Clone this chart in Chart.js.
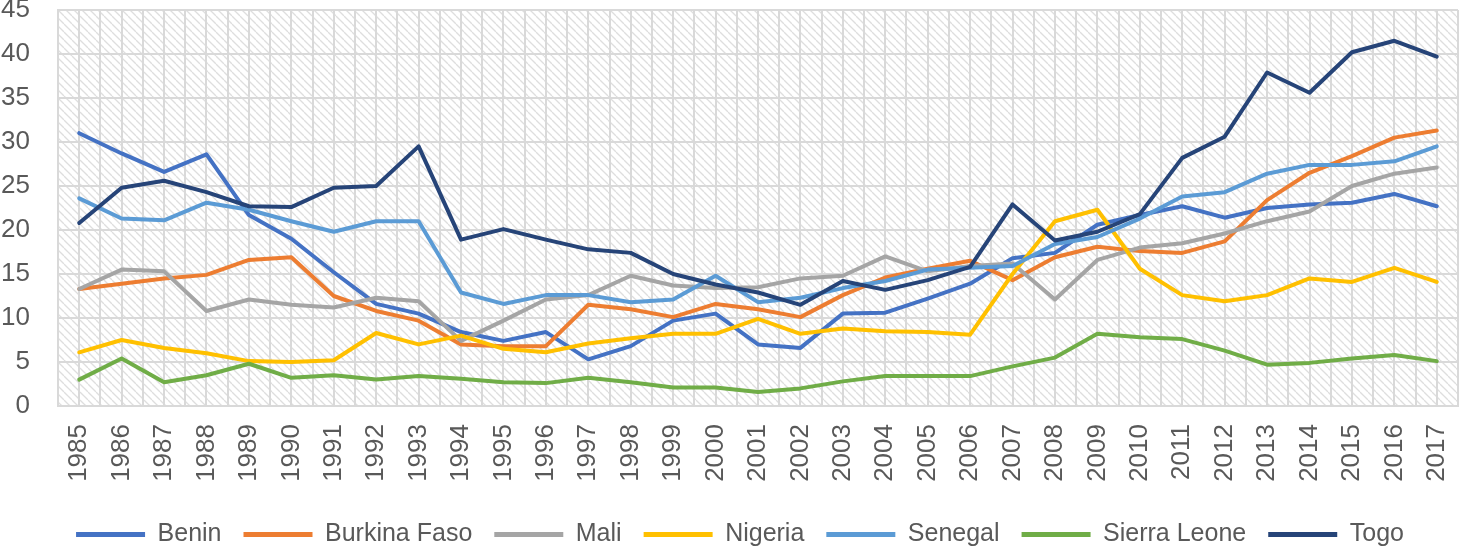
<!DOCTYPE html>
<html>
<head>
<meta charset="utf-8">
<script src="https://cdn.jsdelivr.net/npm/chart.js@4/dist/chart.umd.min.js"></script>
<style>
  html, body { margin: 0; padding: 0; background: #fff; }
  #wrap { width: 1460px; height: 549px; position: relative; }
</style>
</head>
<body>
<div id="wrap"><canvas id="lineChart"></canvas></div>
<script>
// data
const years = ['1985','1986','1987','1988','1989','1990','1991','1992','1993','1994','1995','1996','1997','1998','1999','2000','2001','2002','2003','2004','2005','2006','2007','2008','2009','2010','2011','2012','2013','2014','2015','2016','2017'];
const yTicks = [0, 5, 10, 15, 20, 25, 30, 35, 40, 45];

const benin = [31.0, 28.7, 26.6, 28.6, 21.7, 19.0, 15.2, 11.6, 10.5, 8.4, 7.4, 8.4, 5.3, 6.8, 9.7, 10.5, 7.0, 6.6, 10.5, 10.6, 12.2, 13.9, 16.8, 17.4, 20.6, 21.7, 22.7, 21.4, 22.5, 22.9, 23.1, 24.1, 22.7];
const burkinaFaso = [13.3, 13.9, 14.5, 14.9, 16.6, 16.9, 12.5, 10.8, 9.7, 7.0, 6.8, 6.8, 11.5, 11.0, 10.1, 11.6, 11.0, 10.1, 12.6, 14.6, 15.6, 16.5, 14.3, 16.9, 18.1, 17.6, 17.4, 18.7, 23.4, 26.5, 28.4, 30.5, 31.3];
const mali = [13.3, 15.5, 15.3, 10.8, 12.1, 11.5, 11.2, 12.3, 11.9, 7.4, 9.7, 12.1, 12.6, 14.8, 13.7, 13.4, 13.5, 14.5, 14.8, 17.0, 15.3, 15.9, 16.2, 12.1, 16.6, 18.0, 18.5, 19.6, 21.0, 22.1, 25.0, 26.4, 27.1];
const nigeria = [6.1, 7.5, 6.6, 6.0, 5.1, 5.0, 5.2, 8.3, 7.0, 8.0, 6.5, 6.1, 7.1, 7.7, 8.2, 8.2, 9.9, 8.2, 8.8, 8.5, 8.4, 8.1, 15.0, 21.0, 22.3, 15.6, 12.6, 11.9, 12.6, 14.5, 14.1, 15.7, 14.1];
const senegal = [23.6, 21.3, 21.1, 23.1, 22.3, 21.0, 19.8, 21.0, 21.0, 12.9, 11.6, 12.6, 12.6, 11.8, 12.1, 14.8, 11.8, 12.3, 13.4, 14.2, 15.5, 15.7, 15.9, 18.4, 19.2, 21.3, 23.8, 24.3, 26.4, 27.4, 27.4, 27.8, 29.5];
const sierraLeone = [3.0, 5.4, 2.7, 3.5, 4.8, 3.2, 3.5, 3.0, 3.4, 3.1, 2.7, 2.6, 3.2, 2.7, 2.1, 2.1, 1.6, 2.0, 2.8, 3.4, 3.4, 3.4, 4.5, 5.5, 8.2, 7.8, 7.6, 6.3, 4.7, 4.9, 5.4, 5.8, 5.1];
const togo = [20.8, 24.8, 25.6, 24.3, 22.7, 22.6, 24.8, 25.0, 29.5, 18.9, 20.1, 18.9, 17.8, 17.4, 15.0, 13.8, 12.9, 11.5, 14.2, 13.2, 14.3, 15.8, 22.9, 18.8, 19.8, 21.8, 28.2, 30.6, 37.9, 35.6, 40.2, 41.5, 39.7];

const seriesNames = ['Benin', 'Burkina Faso', 'Mali', 'Nigeria', 'Senegal', 'Sierra Leone', 'Togo'];
const seriesData = [benin, burkinaFaso, mali, nigeria, senegal, sierraLeone, togo];
const seriesColors = ['#4472C4', '#ED7D31', '#A5A5A5', '#FFC000', '#5B9BD5', '#70AD47', '#264478'];

const gridColor = '#d9d9d9';
const textColor = '#595959';

// diagonal hatch behind the plot area + extra vertical lines at each year
const hatchPlugin = {
    id: 'hatch',
    afterLayout: function(chart) {
        // legend in the original sits a little right of centre
        if (chart.legend) chart.legend.left += 22;
    },
    beforeDraw: function(chart) {
        const ctx = chart.ctx;
        const area = chart.chartArea;
        const tile = document.createElement('canvas');
        tile.width = 8; tile.height = 8;
        const g = tile.getContext('2d');
        g.fillStyle = '#ffffff';
        g.fillRect(0, 0, 8, 8);
        g.strokeStyle = '#dedede';
        g.lineWidth = 1.3;
        for (let k = -1; k <= 1; k++) {
            g.beginPath();
            g.moveTo(k * 8, 0);
            g.lineTo(k * 8 + 8, 8);
            g.stroke();
        }
        ctx.save();
        ctx.fillStyle = ctx.createPattern(tile, 'repeat');
        ctx.fillRect(area.left, area.top, area.right - area.left, area.bottom - area.top);
        const xs = chart.scales.x;
        ctx.strokeStyle = gridColor;
        ctx.lineWidth = 2;
        years.forEach(function(y, i) {
            const px = Math.round(xs.getPixelForValue(i));
            ctx.beginPath();
            ctx.moveTo(px, area.top);
            ctx.lineTo(px, area.bottom);
            ctx.stroke();
        });
        ctx.restore();
    }
};

const ctx = document.getElementById('lineChart').getContext('2d');
new Chart(ctx, {
    type: 'line',
    data: {
        labels: years,
        datasets: seriesNames.map(function(name, i) {
            return {
                label: name,
                data: seriesData[i],
                borderColor: seriesColors[i],
                backgroundColor: seriesColors[i],
                borderWidth: 4,
                pointRadius: 0,
                pointHoverRadius: 0,
                tension: 0,
                borderJoinStyle: 'round',
                borderCapStyle: 'round',
                fill: false,
                order: seriesNames.length - i // Togo on top
            };
        })
    },
    options: {
        responsive: true,
        maintainAspectRatio: false,
        animation: false,
        layout: { padding: { top: 10, right: 2, left: 0, bottom: -8 } },
        plugins: {
            tooltip: { enabled: false },
            legend: {
                position: 'bottom',
                labels: {
                    color: textColor,
                    font: { family: "'Liberation Sans', sans-serif", size: 25 },
                    boxWidth: 69,
                    boxHeight: 5,
                    padding: 22,
                    sort: function(a, b) { return a.datasetIndex - b.datasetIndex; },
                    generateLabels: function(chart) {
                        const items = Chart.defaults.plugins.legend.labels.generateLabels(chart);
                        items.forEach(function(it) { it.lineWidth = 0; });
                        return items;
                    }
                }
            }
        },
        scales: {
            x: {
                offset: true,
                grid: { offset: true, color: gridColor, lineWidth: 2, drawTicks: false },
                border: { color: gridColor, width: 2 },
                ticks: {
                    color: textColor,
                    font: { family: "'Liberation Sans', sans-serif", size: 26 },
                    minRotation: 90,
                    maxRotation: 90,
                    autoSkip: false,
                    padding: 18
                },
                afterFit: function(scale) {
                    scale.height = 94;
                    // rotated labels would otherwise shrink the plot on the right
                    scale.paddingLeft = 0;
                    scale.paddingRight = 0;
                }
            },
            y: {
                min: yTicks[0],
                max: yTicks[yTicks.length - 1],
                afterBuildTicks: function(scale) {
                    scale.ticks = yTicks.map(function(v) { return { value: v }; });
                },
                grid: { color: gridColor, lineWidth: 2, drawTicks: false },
                border: { color: gridColor, width: 2 },
                ticks: {
                    color: textColor,
                    font: { family: "'Liberation Sans', sans-serif", size: 26 },
                    padding: 28,
                    autoSkip: false
                },
                afterFit: function(scale) {
                    scale.width = 58;
                    // tick padding would otherwise push the plot down
                    scale.paddingTop = 0;
                    scale.paddingBottom = 0;
                }
            }
        }
    },
    plugins: [hatchPlugin]
});
</script>
</body>
</html>
